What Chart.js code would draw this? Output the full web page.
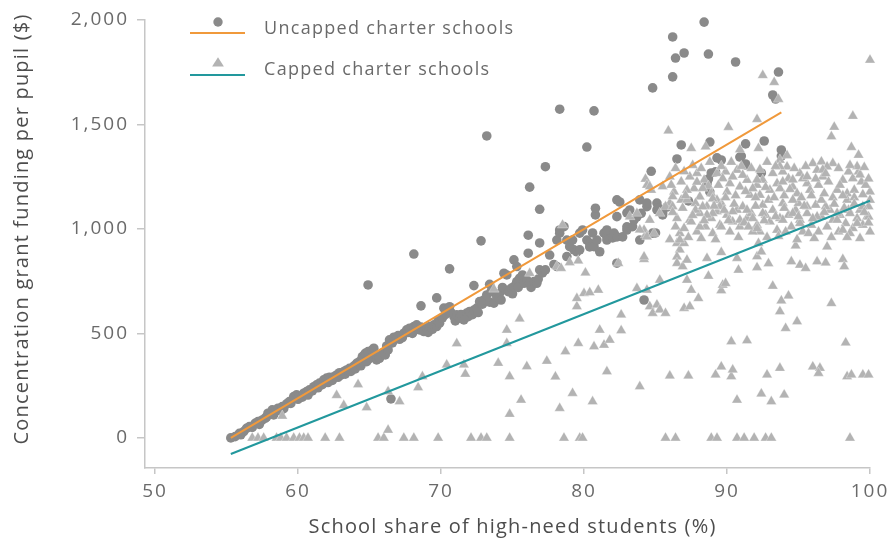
<!DOCTYPE html>
<html>
<head>
<meta charset="utf-8">
<script src="https://cdn.jsdelivr.net/npm/chart.js@4.4.1/dist/chart.umd.min.js"></script>
<style>
  html, body { margin: 0; padding: 0; background: #ffffff; }
  #wrap { width: 893px; height: 546px; }
</style>
</head>
<body>
<div id="wrap"><canvas id="chart" width="893" height="546"></canvas></div>
<script>
// Share of high-need students (%) and concentration grant per pupil ($), one pair per school
const uncappedSchools = [
  [55.3,0],[55.6,6],[55.9,22],[56.0,15],[56.2,30],[56.4,46],[56.6,54],[56.8,50],[57.0,70],[57.2,78],
  [57.3,65],[57.5,86],[57.7,94],[57.8,100],[57.9,118],[58.2,134],[58.3,110],[58.4,126],[58.6,142],[58.8,130],
  [58.9,150],[59.0,140],[59.2,163],[59.4,174],[59.5,165],[59.7,198],[59.9,206],[60.0,185],[60.1,198],[60.3,195],
  [60.4,214],[60.6,222],[60.7,205],[60.8,230],[61.0,225],[61.1,245],[61.3,254],[61.4,240],[61.5,262],[61.7,255],
  [61.8,278],[62.0,286],[62.1,265],[62.2,290],[62.4,275],[62.5,293],[62.7,301],[62.8,290],[62.9,312],[63.0,300],
  [63.2,317],[63.3,305],[63.4,325],[63.6,333],[63.7,318],[63.9,344],[64.0,330],[64.1,357],[64.3,365],[64.4,345],
  [64.5,389],[64.7,405],[64.8,365],[64.9,413],[64.9,732],[65.0,380],[65.2,421],[65.3,429],[65.4,395],[65.5,373],
  [65.7,381],[65.9,405],[66.1,397],[66.2,440],[66.3,421],[66.4,469],[66.5,187],[66.6,455],[66.7,482],[66.9,477],
  [67.0,490],[67.1,472],[67.3,480],[67.4,501],[67.6,517],[67.7,505],[67.8,525],[68.0,500],[68.1,533],[68.1,880],
  [68.3,541],[68.5,517],[68.6,530],[68.6,632],[68.8,509],[69.0,525],[69.1,505],[69.2,533],[69.4,520],[69.5,541],
  [69.7,533],[69.7,670],[69.8,560],[69.9,549],[70.1,575],[70.2,621],[70.3,590],[70.4,612],[70.6,628],[70.6,809],
  [70.7,600],[70.9,581],[71.0,560],[71.1,589],[71.3,573],[71.4,590],[71.6,565],[71.8,597],[71.9,580],[72.0,605],
  [72.2,590],[72.3,612],[72.3,729],[72.5,621],[72.6,600],[72.7,652],[72.8,943],[72.9,640],[73.0,660],[73.2,684],
  [73.2,1445],[73.4,650],[73.4,735],[73.5,700],[73.7,645],[73.9,676],[74.1,692],[74.2,660],[74.3,720],[74.4,788],
  [74.6,780],[74.7,700],[74.8,708],[74.9,716],[75.0,690],[75.1,724],[75.1,852],[75.3,748],[75.3,820],[75.4,720],
  [75.5,764],[75.7,780],[75.8,740],[76.0,756],[76.1,884],[76.1,970],[76.2,740],[76.2,1200],[76.3,720],[76.5,748],
  [76.7,740],[76.8,760],[76.9,804],[76.9,933],[76.9,1094],[77.1,790],[77.3,804],[77.3,1298],[77.6,875],[77.9,830],
  [78.1,820],[78.1,947],[78.3,980],[78.3,995],[78.3,1573],[78.6,1011],[78.8,947],[78.8,868],[79.0,915],[79.2,947],
  [79.3,900],[79.5,891],[79.7,900],[79.7,980],[79.9,995],[80.2,947],[80.2,1392],[80.4,931],[80.4,914],[80.6,981],
  [80.7,915],[80.7,1565],[80.8,1067],[80.8,1099],[80.9,947],[81.1,891],[81.4,980],[81.6,963],[81.6,995],[81.6,947],
  [82.0,957],[82.1,980],[82.3,836],[82.3,962],[82.3,1059],[82.3,1139],[82.5,1129],[82.7,962],[83.0,995],[83.0,1010],
  [83.0,1077],[83.2,1091],[83.4,1011],[83.5,1043],[83.7,1058],[83.9,947],[83.9,1139],[84.0,1075],[84.2,660],[84.4,1107],
  [84.4,1124],[84.7,1276],[84.8,980],[84.8,1675],[85.0,981],[85.1,1091],[85.1,1124],[85.2,1101],[85.5,1067],[85.5,1077],
  [85.8,1105],[86.2,1728],[86.2,1919],[86.4,1818],[86.5,1335],[86.8,1402],[87.0,1842],[87.3,1134],[88.4,1990],[88.6,1211],
  [88.6,1225],[88.7,1239],[88.7,1837],[88.8,1177],[88.8,1416],[88.9,1268],[89.2,1273],[89.3,1340],[89.6,1330],[90.6,1799],
  [90.9,1344],[91.0,1349],[91.3,1306],[91.3,1311],[91.3,1407],[92.4,1268],[92.6,1421],[93.2,1641],[93.4,1622],[93.6,1751],
  [93.8,1349],[93.8,1378]
];

const cappedSchools = [
  [56.8,0],[57.2,0],[57.6,0],[58.5,0],[58.8,0],[59.2,0],[59.7,0],[60.1,0],[60.4,0],[60.7,0],
  [61.9,0],[62.9,0],[65.6,0],[66.0,0],[66.3,38],[67.4,0],[68.1,0],[69.8,0],[72.1,0],[72.8,0],
  [73.2,0],[74.8,0],[78.6,0],[79.7,0],[79.9,0],[85.7,0],[86.4,0],[88.9,0],[89.3,0],[90.7,0],
  [91.2,0],[91.9,0],[92.7,0],[93.1,0],[98.6,0],
  [58.9,105],[62.7,204],[63.2,156],[64.2,256],[64.8,145],[66.3,222],[67.1,174],[68.4,241],[68.7,294],[70.4,350],
  [71.1,452],[71.6,350],[71.7,306],[73.7,712],[74.0,358],[74.6,517],[74.6,453],[74.8,114],[74.8,294],[75.5,570],
  [75.6,182],[76.0,342],[76.2,788],
  [77.4,368],[78.0,293],[78.1,820],[78.3,142],[78.4,812],[78.5,1019],[78.7,413],[79.0,840],[79.2,214],[79.5,629],
  [79.5,668],[79.6,453],[79.6,848],[80.0,692],[80.1,790],[80.4,696],[80.6,174],[80.7,437],[81.0,708],[81.1,517],
  [81.4,445],[81.6,318],[81.8,469],[82.4,836],[82.6,514],[82.6,589],[83.7,716],[83.9,246],[84.2,855],[84.3,971],
  [84.3,1239],[84.4,708],[84.6,629],[84.8,597],[85.1,637],[85.3,613],[85.3,756],[85.7,597],[86.0,297],[87.3,297],
  [87.0,621],[87.4,629],[88.0,668],[87.5,708],[88.7,775],[89.6,705],[89.7,732],[89.9,740],[89.2,302],[89.6,341],
  [90.3,294],[90.4,326],[90.3,461],[91.4,466],[90.7,182],[92.4,211],[93.1,174],[94.0,206],[92.8,302],[93.7,334],
  [93.2,727],[93.8,657],[94.3,680],[93.7,605],[94.1,525],[94.9,557],[96.0,341],[96.5,334],[96.4,310],[97.3,644],
  [98.3,456],[98.4,294],[98.7,302],[99.5,302],[99.9,302],
  [84.2,867],[86.5,932],[86.7,900],[86.5,867],[86.5,836],[86.9,820],[87.2,852],[87.2,756],[88.6,860],[89.6,888],
  [90.7,860],[90.8,804],[92.1,868],[92.1,816],[92.4,891],[92.9,835],[94.8,920],[94.5,844],[95.1,828],[95.5,812],
  [96.3,844],[96.9,838],[97.0,915],[98.1,855],[98.2,820],
  [85.9,1470],[87.5,1386],[88.5,1394],[89.9,1274],[90.1,1487],[90.7,1282],[90.9,1380],[92.1,1525],[92.2,1386],[92.5,1735],
  [92.8,1320],[93.3,1702],[93.6,1621],[93.7,1330],[94.2,1352],[97.3,1442],[97.5,1488],[98.7,1391],[98.8,1540],[99.2,1354],
  [100.0,1809],
  [86.8,1226],[87.7,1194],[88.4,1234],[88.7,1205],[89.3,1266],[89.7,1242],[90.2,1218],[90.9,1202],[91.4,1234],[91.6,1162],
  [92.1,1210],[93.2,1266],[93.5,1218],[93.9,1274],[94.2,1298],[94.3,1242],[94.6,1202],[95.1,1266],[95.6,1218],[96.0,1314],
  [96.3,1282],[96.6,1322],[96.7,1250],[97.1,1226],[97.4,1314],[97.7,1186],[98.1,1234],[98.5,1274],[98.8,1242],[99.2,1274],
  [99.4,1226],[100.0,1178],[90.0,1178],[90.4,1250],[91.8,1194],[92.5,1234],[93.0,1186],[93.7,1194],[94.9,1170],[95.3,1242],
  [95.8,1186],[96.4,1210],[97.0,1298],[97.9,1210],[98.4,1170],[98.9,1186],[99.7,1210],[93.9,1226],[92.3,1162],[91.1,1258],
  [89.4,1210],[88.9,1170],[88.1,1154],[87.4,1250],[86.3,1178],
  [88.1,1075],[88.6,1107],[88.9,1051],[89.3,1083],[89.6,1123],[90.0,1067],[90.4,1035],[90.7,1091],[90.9,1011],[91.4,1051],
  [91.7,1075],[92.1,1019],[92.3,987],[92.7,1067],[93.0,1035],[93.2,1091],[93.5,995],[93.7,1051],[93.9,1123],[94.3,1067],
  [94.5,1011],[94.8,1091],[95.1,1043],[95.3,987],[95.6,1075],[95.9,1019],[96.2,1115],[96.4,987],[96.6,1059],[97.0,1011],
  [97.2,1091],[97.4,1043],[97.8,987],[97.9,1067],[98.3,1027],[98.5,1091],[98.8,1003],[99.1,1051],[99.3,1091],[99.5,1019],
  [99.8,1059],[100.0,987],[99.9,1107],[89.5,1019],[90.2,987],[91.1,1107],[91.8,987],[92.5,1115],[94.1,987],[95.0,1123],
  [95.7,979],[96.9,1107],[97.7,1075],[98.6,979],[88.5,1011],[87.9,987],[87.8,1123],[92.9,1139],[94.6,1139],[96.6,1139],
  [98.4,1139],[100.0,1139],
  [84.2,995],[84.4,963],[85.3,1075],[86.0,1123],[86.4,1011],[86.7,979],[87.0,931],[87.4,1043],[87.8,1091],[86.5,1051],
  [85.7,1107],[84.9,979],[84.4,1210],[84.7,1186],[86.8,1139],[87.2,1186],
  [84.6,1203],[85.5,1203],[87.9,1267],[86.2,1155],[87.2,1139],[89.3,1139],[92.1,1235],[93.7,1299],[94.6,1235],[95.6,1251],
  [96.7,1283],[99.1,1299],[99.3,1259],[83.2,1059],[83.7,1075],[83.9,996],[86.7,948],[88.3,1107],[89.0,1075],
  [87.0,1003],[87.5,1035],[88.6,1067],[89.5,1107],[90.4,1083],[90.9,1043],[91.4,1091],[91.8,1051],[92.1,1003],[92.5,1075],
  [93.9,1043],[94.6,1075],[95.1,1027],[95.6,1107],[96.3,1059],[97.7,1043],[98.1,995],[98.6,1075],[99.1,1027],[99.5,1107],
  [99.9,1059],[92.2,932],[86.2,1107],[88.1,1011],[89.0,979],[89.6,1011],[84.6,1043],
  [86.0,1250],[86.4,1290],[87.0,1275],[87.6,1305],[88.2,1290],[88.8,1320],[89.6,1300],[90.3,1320],[91.0,1300],[91.7,1290],
  [92.3,1285],[93.4,1300],[94.7,1290],[95.5,1300],[96.9,1265],[97.8,1290],[98.6,1305],[99.6,1295],
  [86.1,1210],[87.1,1160],[87.9,1225],[88.3,1195],[89.0,1145],[89.9,1150],[90.6,1160],[91.3,1180],[92.0,1150],[92.7,1200],
  [93.3,1150],[94.0,1160],[94.4,1190],[95.2,1150],[95.9,1160],[96.2,1240],[96.8,1170],[97.4,1150],[98.1,1160],[98.9,1150],
  [99.5,1165],[99.9,1240],
  [86.2,1080],[86.9,1100],[87.6,1065],[88.4,1040],[89.1,1110],[89.8,1090],[90.5,1120],[91.2,1030],[92.0,1110],[92.6,1040],
  [93.4,1060],[94.0,1100],[95.0,1060],[95.4,1110],[96.0,1050],[96.8,1080],[97.5,1120],[98.2,1100],[98.9,1120],[99.6,1080],
  [86.0,950],[87.3,960],[88.2,955],[89.2,950],[90.1,1040],[90.8,960],[91.5,1010],[92.8,960],[93.6,965],[94.9,950],
  [96.1,955],[97.3,960],[98.4,960],[99.3,955],[99.9,1030]
];

// Fitted trend lines: end points of each line
const uncappedFit = [[55.3,0],[93.8,1558]];
const cappedFit = [[55.3,-77],[100,1135]];

const seriesNames = ['Uncapped charter schools', 'Capped charter schools'];
const xTicks = [50, 60, 70, 80, 90, 100];
const yTicks = [0, 500, 1000, 1500, 2000];
const xTitle = 'School share of high-need students (%)';
const yTitle = 'Concentration grant funding per pupil ($)';

const FONT = "'Open Sans', 'Noto Sans', sans-serif";
const COLORS = {
  uncapped: '#8a8a8a',
  capped: '#b3b3b3',
  uncappedLine: '#f0993b',
  cappedLine: '#22989d',
  axis: '#c6c6c6',
  tickText: '#6a6a6a',
  titleText: '#4d4d4d'
};

const toPoints = arr => arr.map(([x, y]) => ({x, y}));

// Wider tracking for the tick labels drawn by the axes
const tracking = {
  id: 'tracking',
  beforeDraw(chart) { chart.ctx.letterSpacing = '2px'; },
  afterDatasetsDraw(chart) { chart.ctx.letterSpacing = '0px'; }
};

// Axis titles (centred on the labelled tick range) and the legend block
const decorations = {
  id: 'decorations',
  afterDraw(chart) {
    const {ctx, scales: {x, y}} = chart;
    ctx.save();
    ctx.letterSpacing = '1.2px';
    ctx.fillStyle = COLORS.titleText;
    ctx.font = `20px ${FONT}`;
    ctx.textAlign = 'center';
    ctx.textBaseline = 'middle';
    const xc = (x.getPixelForValue(xTicks[0]) + x.getPixelForValue(xTicks[xTicks.length - 1])) / 2;
    ctx.fillText(xTitle, xc, 527);
    const yc = (y.getPixelForValue(yTicks[0]) + y.getPixelForValue(yTicks[yTicks.length - 1])) / 2;
    ctx.save();
    ctx.translate(22, yc);
    ctx.rotate(-Math.PI / 2);
    ctx.fillText(yTitle, 0, 0);
    ctx.restore();

    // legend
    const lx0 = 190, lx1 = 245, mx = 218, tx = 264;
    const rows = [
      {lineY: 33, markY: 22, textY: 29, line: COLORS.uncappedLine, mark: COLORS.uncapped, shape: 'circle', label: seriesNames[0]},
      {lineY: 75, markY: 63, textY: 70, line: COLORS.cappedLine, mark: COLORS.capped, shape: 'triangle', label: seriesNames[1]}
    ];
    ctx.letterSpacing = '1.3px';
    rows.forEach(r => {
      ctx.strokeStyle = r.line;
      ctx.lineWidth = 2;
      ctx.beginPath();
      ctx.moveTo(lx0, r.lineY);
      ctx.lineTo(lx1, r.lineY);
      ctx.stroke();
      ctx.fillStyle = r.mark;
      ctx.beginPath();
      if (r.shape === 'circle') {
        ctx.arc(mx, r.markY, 4.7, 0, Math.PI * 2);
      } else {
        ctx.moveTo(mx, r.markY - 5.8);
        ctx.lineTo(mx + 5.9, r.markY + 3.6);
        ctx.lineTo(mx - 5.9, r.markY + 3.6);
        ctx.closePath();
      }
      ctx.fill();
      ctx.fillStyle = COLORS.tickText;
      ctx.font = `18px ${FONT}`;
      ctx.textAlign = 'left';
      ctx.textBaseline = 'middle';
      ctx.fillText(r.label, tx, r.textY);
    });
    ctx.restore();
  }
};

const axisCommon = {
  type: 'linear',
  grid: { drawOnChartArea: false, drawTicks: true, color: COLORS.axis, lineWidth: 1.5 },
  border: { display: true, color: COLORS.axis, width: 1.5 },
  title: { display: false }
};

new Chart(document.getElementById('chart'), {
  type: 'scatter',
  data: {
    datasets: [
      {
        label: 'Uncapped trend', data: toPoints(uncappedFit), showLine: true,
        borderColor: COLORS.uncappedLine, borderWidth: 2, pointRadius: 0, fill: false, order: 0, clip: false
      },
      {
        label: 'Capped trend', data: toPoints(cappedFit), showLine: true,
        borderColor: COLORS.cappedLine, borderWidth: 2, pointRadius: 0, fill: false, order: 0, clip: false
      },
      {
        label: seriesNames[1], data: toPoints(cappedSchools), pointStyle: 'triangle',
        pointRadius: 6, backgroundColor: COLORS.capped, borderColor: 'rgba(255,255,255,0.5)', borderWidth: 0.6,
        order: 1, clip: false
      },
      {
        label: seriesNames[0], data: toPoints(uncappedSchools), pointStyle: 'circle',
        pointRadius: 4.8, backgroundColor: COLORS.uncapped, borderWidth: 0, order: 2, clip: false
      }
    ]
  },
  options: {
    responsive: false,
    devicePixelRatio: 1,
    animation: false,
    events: [],
    layout: { padding: { left: 0, right: 23, top: 20, bottom: 0 } },
    plugins: { legend: { display: false }, tooltip: { enabled: false } },
    scales: {
      x: {
        ...axisCommon,
        min: 49.3, max: 100,
        grid: { ...axisCommon.grid, tickLength: 6 },
        afterBuildTicks: s => { s.ticks = xTicks.map(v => ({value: v})); },
        afterFit: s => { s.height = 78; },
        ticks: { color: COLORS.tickText, font: { family: FONT, size: 19 }, padding: 6, maxRotation: 0, autoSkip: false,
                 callback: v => String(v) }
      },
      y: {
        ...axisCommon,
        min: -144, max: 2000,
        grid: { ...axisCommon.grid, tickLength: 8 },
        afterBuildTicks: s => { s.ticks = yTicks.map(v => ({value: v})); },
        afterFit: s => { s.width = 145; },
        ticks: { color: COLORS.tickText, font: { family: FONT, size: 19 }, padding: 8, autoSkip: false,
                 callback: v => v.toLocaleString('en-US') }
      }
    }
  },
  plugins: [tracking, decorations]
});
</script>
</body>
</html>
